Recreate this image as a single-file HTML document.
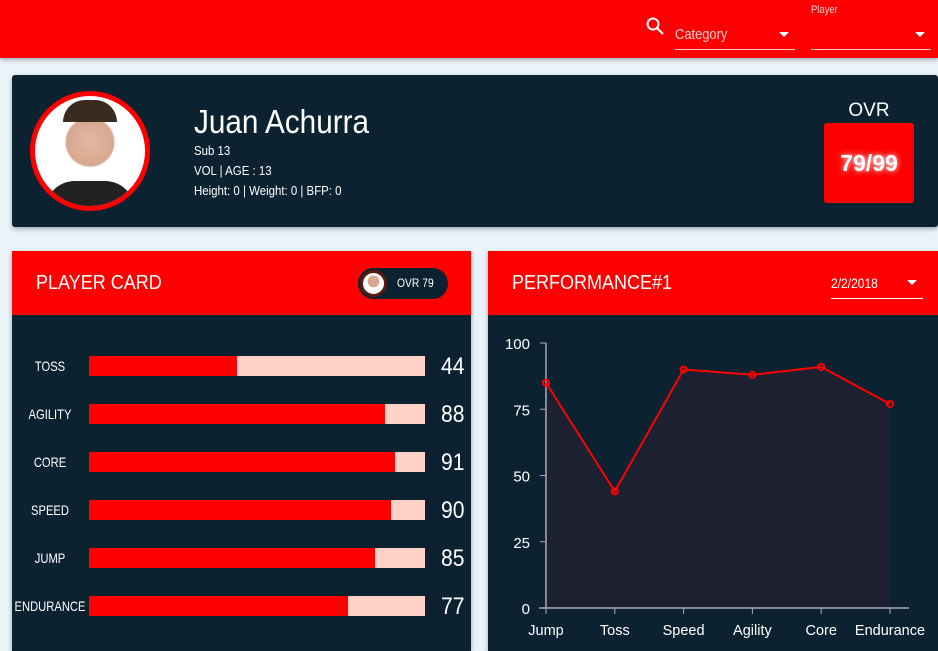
<!DOCTYPE html>
<html><head><meta charset="utf-8"><style>
*{box-sizing:border-box;margin:0;padding:0}
body{width:938px;height:642px;overflow:hidden;background:#eaf2fa;font-family:"Liberation Sans Narrow","Liberation Sans",sans-serif;color:#fff;position:relative}
.abs{position:absolute}
.nar{transform:scaleX(.86);transform-origin:left center;white-space:nowrap}
</style></head><body>
<div class="abs" style="left:0;top:0;width:938px;height:58px;background:#ff0000;box-shadow:0 2px 4px rgba(0,0,0,.3)">
  <svg class="abs" style="left:645px;top:16px" width="20" height="20"><circle cx="8" cy="8" r="5.5" stroke="#fff" stroke-width="2" fill="none"/><line x1="12" y1="12" x2="18" y2="18" stroke="#fff" stroke-width="2.2"/></svg>
  <div class="abs" style="left:675px;top:24px;width:120px;height:26px;border-bottom:1px solid #ffd0d0;color:#ffd0d0;font-size:15px"><span class="nar" style="display:inline-block;margin-top:2px">Category</span><span class="abs" style="right:6px;top:8px;border:5px solid transparent;border-top:5px solid #fff"></span></div>
  <div class="abs nar" style="left:811px;top:4px;font-size:11px;color:#ffd0d0">Player</div>
  <div class="abs" style="left:811px;top:24px;width:120px;height:26px;border-bottom:1px solid #ffd0d0"><span class="abs" style="right:6px;top:8px;border:5px solid transparent;border-top:5px solid #fff"></span></div>
</div>
<div class="abs" style="left:12px;top:75px;width:926px;height:152px;background:#0c2231;border-radius:3px;box-shadow:0 2px 5px rgba(0,0,0,.3)">
  <div class="abs" style="left:18px;top:16px;width:120px;height:120px;border-radius:50%;border:5px solid #ff0000;background:radial-gradient(circle at 50% 42%,#e0b8a0 0,#d8a890 28%,#fff 30%);overflow:hidden"><div style="position:absolute;left:10px;top:85px;width:90px;height:40px;background:#222;border-radius:30px 30px 0 0"></div><div style="position:absolute;left:28px;top:4px;width:54px;height:22px;background:#3a2a20;border-radius:25px 25px 0 0"></div></div>
  <div class="abs nar" style="left:182px;top:28px;font-size:33px;transform:scaleX(.9)">Juan Achurra</div>
  <div class="abs nar" style="left:182px;top:66px;font-size:13px;line-height:20px;transform:scaleX(.88)">Sub 13<br>VOL | AGE : 13<br>Height: 0 | Weight: 0 | BFP: 0</div>
  <div class="abs" style="left:812px;top:25px;width:90px;text-align:center;font-size:19px">OVR</div>
  <div class="abs" style="left:812px;top:48px;width:90px;height:80px;background:#ff0000;border-radius:3px;font-size:23px;font-weight:bold;line-height:80px;text-align:center;text-shadow:0 0 6px #fff">79/99</div>
</div>
<div class="abs" style="left:12px;top:251px;width:459px;height:400px;background:#0c2231;box-shadow:0 2px 5px rgba(0,0,0,.3)">
  <div class="abs" style="left:0;top:0;width:459px;height:64px;background:#ff0000"></div>
  <div class="abs nar" style="left:24px;top:21px;font-size:20px;transform:scaleX(.9)">PLAYER CARD</div>
  <div class="abs" style="left:346px;top:17px;width:90px;height:31px;border-radius:16px;background:#0c2231;font-size:12px;line-height:31px;padding-left:39px"><span class="nar" style="display:inline-block">OVR 79</span><div style="position:absolute;left:2px;top:2px;width:27px;height:27px;border-radius:50%;border:3px solid #5a1a10;background:radial-gradient(circle at 50% 40%,#d8a890 0,#d8a890 35%,#fff 37%)"></div></div>
  <div id="bars"></div>
</div>
<div class="abs" style="left:488px;top:251px;width:450px;height:400px;background:#0c2231;box-shadow:0 2px 5px rgba(0,0,0,.3)">
  <div class="abs" style="left:0;top:0;width:450px;height:64px;background:#ff0000"></div>
  <div class="abs nar" style="left:24px;top:21px;font-size:20px;transform:scaleX(.9)">PERFORMANCE#1</div>
  <div class="abs" style="left:343px;top:24px;width:92px;height:24px;border-bottom:1px solid #fff;font-size:14px"><span class="nar" style="display:inline-block">2/2/2018</span><span class="abs" style="right:6px;top:5px;border:5px solid transparent;border-top:5px solid #fff"></span></div>
</div>
<svg class="abs" id="chart" style="left:0;top:0" width="938" height="642"></svg>
<script>
const barLabels=["TOSS","AGILITY","CORE","SPEED","JUMP","ENDURANCE"];
const barValues=[44,88,91,90,85,77];
const cats=["Jump","Toss","Speed","Agility","Core","Endurance"];
const vals=[85,44,90,88,91,77];
const yTicks=[0,25,50,75,100];
const bars=document.getElementById('bars');
barLabels.forEach((l,i)=>{
  const y=105+i*48;
  const lab=document.createElement('div');
  
  
  lab.style.cssText=`position:absolute;left:-12px;width:100px;text-align:center;top:${y+2}px;font-size:14px;white-space:nowrap;transform:scaleX(.8)`;
  lab.textContent=l;bars.appendChild(lab);
  const tr=document.createElement('div');
  
  
  tr.style.cssText=`position:absolute;left:77px;top:${y}px;width:336px;height:20px;background:#ffd2c8`;
  const f=document.createElement('div');
  
  
  f.style.cssText=`height:20px;width:${barValues[i]/100*336}px;background:#ff0000`;
  tr.appendChild(f);bars.appendChild(tr);
  const v=document.createElement('div');
  
  
  v.style.cssText=`position:absolute;left:429px;top:${y-3}px;font-size:24px;transform:scaleX(.88);transform-origin:left`;
  v.textContent=barValues[i];bars.appendChild(v);
});
const svg=document.getElementById('chart');const NS='http://www.w3.org/2000/svg';
const x=i=>546+i*68.8, y=v=>608-v*2.65;
function mk(t,a,name){const e=document.createElementNS(NS,t);for(const k in a)e.setAttribute(k,a[k]);


svg.appendChild(e);return e;}
let d=`M${x(0)},${y(0)}`;vals.forEach((v,i)=>d+=`L${x(i)},${y(v)}`);d+=`L${x(vals.length-1)},${y(0)}Z`;
mk('path',{d,fill:'#1c2030'},'area-fill');
mk('line',{x1:546,y1:343,x2:546,y2:608,stroke:'#aab',"stroke-width":1.5},'y-axis');
mk('line',{x1:539,y1:608,x2:909,y2:608,stroke:'#aab',"stroke-width":1.5},'x-axis');
yTicks.forEach(t=>{mk('line',{x1:540,y1:y(t),x2:546,y2:y(t),stroke:'#aab'},'y-tick');
const tx=mk('text',{x:530,y:y(t)+6,fill:'#fff',"font-size":15,"text-anchor":"end","font-family":"Liberation Sans, sans-serif"},'y-tick-label');tx.textContent=t;});
cats.forEach((c,i)=>{mk('line',{x1:x(i),y1:608,x2:x(i),y2:614,stroke:'#aab'},'x-tick');
const tx=mk('text',{x:x(i),y:635,fill:'#fff',"font-size":14.5,"text-anchor":"middle","font-family":"Liberation Sans, sans-serif"},'x-tick-label');tx.textContent=c;});
mk('polyline',{points:vals.map((v,i)=>x(i)+','+y(v)).join(' '),fill:'none',stroke:'#ff0000',"stroke-width":2},'performance-line');
vals.forEach((v,i)=>mk('circle',{cx:x(i),cy:y(v),r:3,fill:'none',stroke:'#ff0000',"stroke-width":2},'data-point'));
</script>
</body></html>
